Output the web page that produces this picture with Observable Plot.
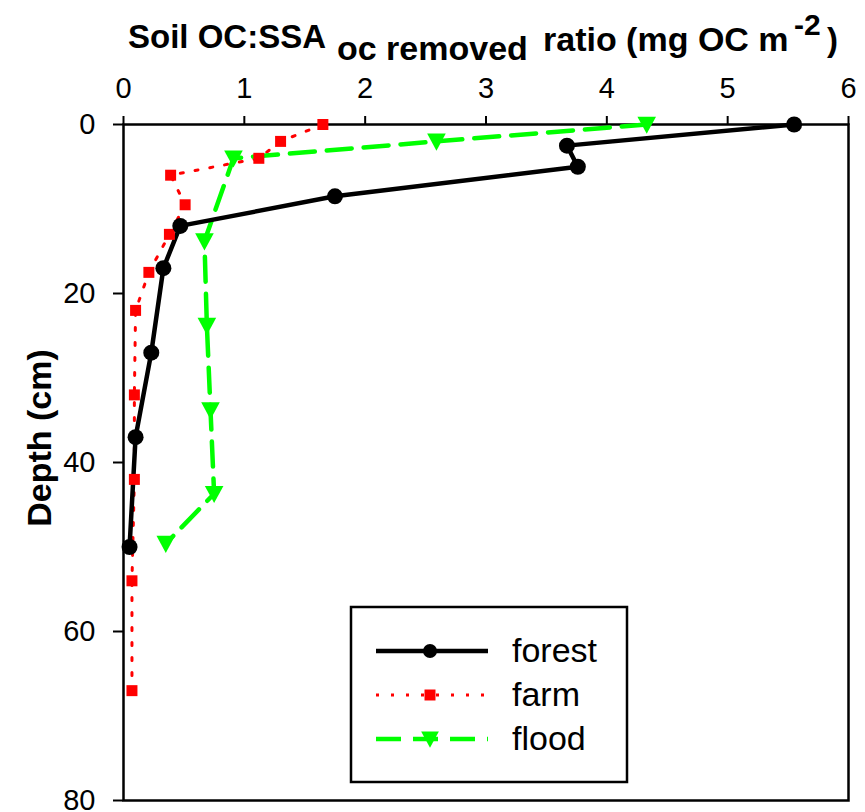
<!DOCTYPE html>
<html>
<head>
<meta charset="utf-8">
<script src="https://cdn.jsdelivr.net/npm/d3@7"></script>
<script src="https://cdn.jsdelivr.net/npm/@observablehq/plot@0.6"></script>
<style>
  html, body { margin: 0; padding: 0; background: #fff; }
  #chart svg { display: block; }
</style>
</head>
<body>
<div id="chart"></div>
<script>
// Soil OC:SSA ratio profiles by land use
const seriesNames = ["forest", "farm", "flood"];

const forestDepth = [0, 2.5, 5, 8.5, 12, 17, 27, 37, 50];
const forestRatio = [5.55, 3.67, 3.76, 1.75, 0.47, 0.33, 0.23, 0.10, 0.05];

const farmDepth = [0, 2, 4, 6, 9.5, 13, 17.5, 22, 32, 42, 54, 67];
const farmRatio = [1.65, 1.30, 1.12, 0.39, 0.51, 0.38, 0.21, 0.10, 0.09, 0.09, 0.07, 0.07];

const floodDepth = [0, 2, 4, 13.8, 23.8, 33.8, 43.7, 49.6];
const floodRatio = [4.33, 2.59, 0.91, 0.67, 0.69, 0.72, 0.75, 0.35];

const xTicks = [0, 1, 2, 3, 4, 5, 6];
const yTicks = [0, 20, 40, 60, 80];

const toRows = (depths, ratios) => depths.map((d, i) => ({depth: d, ratio: ratios[i]}));
const forest = toRows(forestDepth, forestRatio);
const farm = toRows(farmDepth, farmRatio);
const flood = toRows(floodDepth, floodRatio);

// downward-pointing triangle symbol
const triangleDown = {
  draw(context, size) {
    const w = Math.sqrt(size);
    context.moveTo(-w / 2, -w * 0.42);
    context.lineTo(w / 2, -w * 0.42);
    context.lineTo(0, w * 0.5);
    context.closePath();
  }
};

const font = "'Liberation Sans', Arial, sans-serif";

const chart = Plot.plot({
  width: 865,
  height: 812,
  marginLeft: 123,
  marginRight: 17,
  marginTop: 124,
  marginBottom: 12,
  style: {fontFamily: font, fontSize: "29px", color: "black", background: "white"},
  x: {domain: [0, 6]},
  y: {domain: [0, 80], reverse: true},
  marks: [
    Plot.axisX({anchor: "top", ticks: xTicks, tickFormat: "d", tickSize: 9, tickPadding: 18, label: null, fontSize: 29, strokeWidth: 2}),
    Plot.axisY({anchor: "left", ticks: yTicks, tickFormat: "d", tickSize: 10, tickPadding: 18, label: null, fontSize: 29, strokeWidth: 2}),
    Plot.frame({stroke: "black", strokeWidth: 2.5}),
    Plot.line(farm, {x: "ratio", y: "depth", stroke: "#ff0000", strokeWidth: 3, strokeDasharray: "3,12"}),
    Plot.line(flood, {x: "ratio", y: "depth", stroke: "#00ff00", strokeWidth: 4.5, strokeDasharray: "25,12"}),
    Plot.line(forest, {x: "ratio", y: "depth", stroke: "black", strokeWidth: 4.5}),
    Plot.dot(farm, {x: "ratio", y: "depth", symbol: "square", r: 6.2, fill: "#ff0000"}),
    Plot.dot(flood, {x: "ratio", y: "depth", symbol: triangleDown, r: 10.5, fill: "#00ff00"}),
    Plot.dot(forest, {x: "ratio", y: "depth", symbol: "circle", r: 8, fill: "black"})
  ]
});

document.getElementById("chart").appendChild(chart);

const svg = d3.select(chart);

// Title with subscript and superscript
const title = svg.append("text")
  .attr("text-anchor", "start")
  .attr("font-family", font)
  .attr("font-weight", "bold")
  .attr("font-size", 33)
  .attr("fill", "black");
title.append("tspan").attr("x", 128).attr("y", 48).text("Soil OC:SSA");
title.append("tspan").attr("x", 337).attr("y", 60).attr("font-size", 34).text("oc removed");
title.append("tspan").attr("x", 543).attr("y", 51).attr("font-size", 34).text("ratio (mg OC m");
title.append("tspan").attr("x", 794).attr("y", 35).attr("font-size", 30).text("-2");
title.append("tspan").attr("x", 827).attr("y", 51).text(")");

// Y axis label
svg.append("text")
  .attr("transform", "translate(51,438) rotate(-90)")
  .attr("text-anchor", "middle")
  .attr("font-family", font)
  .attr("font-weight", "bold")
  .attr("font-size", 34)
  .attr("fill", "black")
  .text("Depth (cm)");

// Legend
const legend = svg.append("g");
legend.append("rect")
  .attr("x", 351).attr("y", 607).attr("width", 276).attr("height", 175)
  .attr("fill", "white").attr("stroke", "black").attr("stroke-width", 2.5);

const legendItems = [
  {name: seriesNames[0], color: "black", width: 4.5, dash: null, symbol: d3.symbolCircle, size: Math.PI * 7 * 7},
  {name: seriesNames[1], color: "#ff0000", width: 3, dash: "3,12", symbol: d3.symbolSquare, size: Math.PI * 6.2 * 6.2},
  {name: seriesNames[2], color: "#00ff00", width: 4.5, dash: "25,12", symbol: triangleDown, size: Math.PI * 100}
];
legendItems.forEach((item, i) => {
  const cy = 651 + i * 44;
  legend.append("line")
    .attr("x1", 376).attr("x2", 488).attr("y1", cy).attr("y2", cy)
    .attr("stroke", item.color).attr("stroke-width", item.width)
    .attr("stroke-dasharray", item.dash);
  legend.append("path")
    .attr("transform", `translate(430,${cy})`)
    .attr("d", d3.symbol(item.symbol, item.size)())
    .attr("fill", item.color);
  legend.append("text")
    .attr("x", 512).attr("y", cy + 11)
    .attr("text-anchor", "start")
    .attr("font-family", font)
    .attr("font-size", 34)
    .attr("fill", "black")
    .text(item.name);
});
</script>
</body>
</html>
